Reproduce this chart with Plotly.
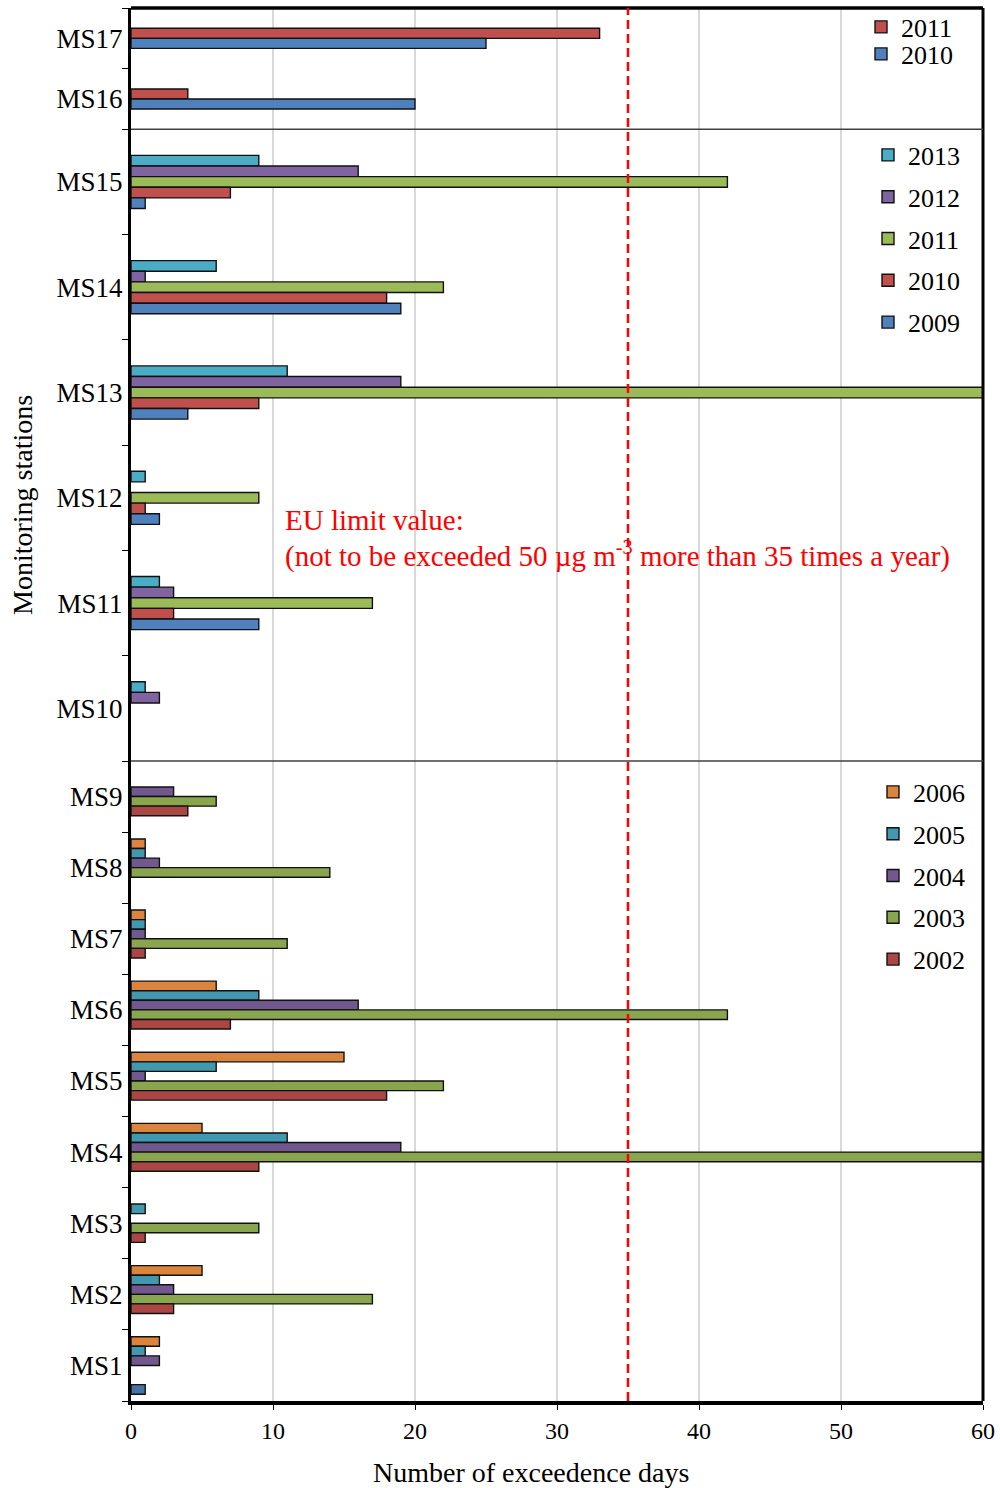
import plotly.graph_objects as go

# ---- data: number of exceedance days per monitoring station ----
top_stations = ["MS16", "MS17"]
top_years = ["2010", "2011"]
top_values = {
    "2010": [20, 25],
    "2011": [4, 33],
}

mid_stations = ["MS10", "MS11", "MS12", "MS13", "MS14", "MS15"]
mid_years = ["2009", "2010", "2011", "2012", "2013"]
mid_values = {
    "2009": [None, 9, 2, 4, 19, 1],
    "2010": [None, 3, 1, 9, 18, 7],
    "2011": [None, 17, 9, 60, 22, 42],
    "2012": [2, 3, None, 19, 1, 16],
    "2013": [1, 2, 1, 11, 6, 9],
}

bot_stations = ["MS1", "MS2", "MS3", "MS4", "MS5", "MS6", "MS7", "MS8", "MS9"]
bot_years = ["2001", "2002", "2003", "2004", "2005", "2006"]
bot_values = {
    "2001": [1, None, None, None, None, None, None, None, None],
    "2002": [None, 3, 1, 9, 18, 7, 1, None, 4],
    "2003": [None, 17, 9, 60, 22, 42, 11, 14, 6],
    "2004": [2, 3, None, 19, 1, 16, 1, 2, 3],
    "2005": [1, 2, 1, 11, 6, 9, 1, 1, None],
    "2006": [2, 5, None, 5, 15, 6, 1, 1, None],
}

eu_limit_days = 35
x_ticks = [0, 10, 20, 30, 40, 50, 60]

# ---- styling ----
top_colors = {"2010": "#4F81BD", "2011": "#C0504D"}
mid_colors = {"2009": "#4F81BD", "2010": "#C0504D", "2011": "#9BBB59",
              "2012": "#8064A2", "2013": "#4BACC6"}
bot_colors = {"2001": "#4572A7", "2002": "#AA4643", "2003": "#89A54E",
              "2004": "#71588F", "2005": "#4198AF", "2006": "#DB843D"}

FONT = "Liberation Serif"
W, H = 1000, 1488
L, R, T, B = 131, 17, 8, 87
PW, PH = W - L - R, H - T - B


def py(pix):
    """vertical pixel -> paper fraction"""
    return (H - B - pix) / PH


def px(pix):
    """horizontal pixel -> paper fraction"""
    return (pix - L) / PW


sep1, sep2 = 129.3, 761
dom_top = [py(sep1), 1]
dom_mid = [py(sep2), py(sep1)]
dom_bot = [0, py(sep2)]

fig = go.Figure()


def add_group(stations, years, values, colors, width, yaxis, legend_of):
    # bars are placed by explicit offsets (earliest year lowest in each group);
    # traces are added latest-first so the legends list the latest year on top
    n = len(years)
    for i in reversed(range(n)):
        yr = years[i]
        lg = legend_of(yr)
        fig.add_trace(go.Bar(
            y=stations, x=values[yr], orientation="h", name=yr,
            marker=dict(color=colors[yr], line=dict(color="#111111", width=1.4)),
            width=width, offset=-n * width / 2 + i * width,
            yaxis=yaxis, xaxis="x",
            legend=lg if lg else "legend",
            showlegend=lg is not None,
            legendgroup=yaxis + yr,
        ))


add_group(top_stations, top_years, top_values, top_colors, 0.165, "y",
          lambda yr: "legend" if yr == "2011" else "legend2")
add_group(mid_stations, mid_years, mid_values, mid_colors, 0.101, "y2",
          lambda yr: "legend3")
add_group(bot_stations, bot_years, bot_values, bot_colors, 0.1347, "y3",
          lambda yr: None if yr == "2001" else "legend4")

yax_common = dict(
    type="category", showline=True, linewidth=3, linecolor="black",
    ticks="outside", ticklen=6, tickwidth=1.2, tickcolor="black",
    tickson="boundaries", showgrid=False, anchor="x", automargin=False,
    tickfont=dict(family=FONT, size=27, color="black"),
    zeroline=False,
)

leg_common = dict(
    bgcolor="rgba(0,0,0,0)", borderwidth=0, xanchor="left", yanchor="middle",
    font=dict(family=FONT, size=26, color="black"),
    itemwidth=30, itemclick=False, itemdoubleclick=False,
)

fig.update_layout(
    width=W, height=H,
    margin=dict(l=L, r=R, t=T, b=B, autoexpand=False),
    paper_bgcolor="white", plot_bgcolor="white",
    barmode="overlay",
    font=dict(family=FONT, color="black"),
    xaxis=dict(
        range=[0, 60], tickvals=x_ticks, anchor="y3", automargin=False,
        showline=True, linewidth=3.5, linecolor="black",
        ticks="outside", ticklen=5, tickwidth=1.2, tickcolor="black",
        showgrid=True, gridcolor="#D9D9D9", gridwidth=1.5, zeroline=False,
        tickfont=dict(family=FONT, size=24, color="black"),
    ),
    yaxis=dict(domain=dom_top, range=[-0.5, 1.5], **yax_common),
    yaxis2=dict(domain=dom_mid, range=[-0.5, 5.5], **yax_common),
    yaxis3=dict(domain=dom_bot, range=[-0.5, 8.5], **yax_common),
    legend=dict(x=px(861), y=py(27), traceorder="grouped", **leg_common),
    legend2=dict(x=px(861), y=py(54), traceorder="grouped", **leg_common),
    legend3=dict(x=px(868), y=py(239), traceorder="grouped",
                 tracegroupgap=5, **leg_common),
    legend4=dict(x=px(873), y=py(876), traceorder="grouped",
                 tracegroupgap=5, **leg_common),
    showlegend=True,
)

# frame: top and right borders, thin panel separators
fig.add_shape(type="line", xref="paper", yref="paper", x0=0, x1=1, y0=1, y1=1,
              line=dict(color="black", width=3.5))
fig.add_shape(type="line", xref="paper", yref="paper", x0=1, x1=1, y0=0, y1=1,
              line=dict(color="black", width=3))
for sep in (sep1, sep2):
    fig.add_shape(type="line", xref="paper", yref="paper", x0=0, x1=1,
                  y0=py(sep), y1=py(sep), line=dict(color="#404040", width=1.5))

# EU limit line
fig.add_shape(type="line", xref="x", yref="paper", x0=eu_limit_days, x1=eu_limit_days,
              y0=0, y1=1, layer="above",
              line=dict(color="#FF0000", width=2.5, dash="9px,5px"))

eu_font = dict(family=FONT, size=29, color="#FF0000")
fig.add_annotation(
    xref="paper", yref="paper", x=px(283), y=py(520), xanchor="left", yanchor="middle",
    showarrow=False, text="EU limit value:", font=eu_font,
)
fig.add_annotation(
    xref="paper", yref="paper", x=px(283), y=py(554), xanchor="left", yanchor="middle",
    showarrow=False,
    text="(not to be exceeded 50 µg m<sup>-3</sup> more than 35 times a year)",
    font=eu_font,
)

fig.add_annotation(
    xref="paper", yref="paper", x=px(22), y=py(505), textangle=-90,
    xanchor="center", yanchor="middle", showarrow=False,
    text="Monitoring stations", font=dict(family=FONT, size=28, color="black"),
)
fig.add_annotation(
    xref="paper", yref="paper", x=px(531), y=py(1472),
    xanchor="center", yanchor="middle", showarrow=False,
    text="Number of exceedence days", font=dict(family=FONT, size=28, color="black"),
)

fig.write_html("out.html")
